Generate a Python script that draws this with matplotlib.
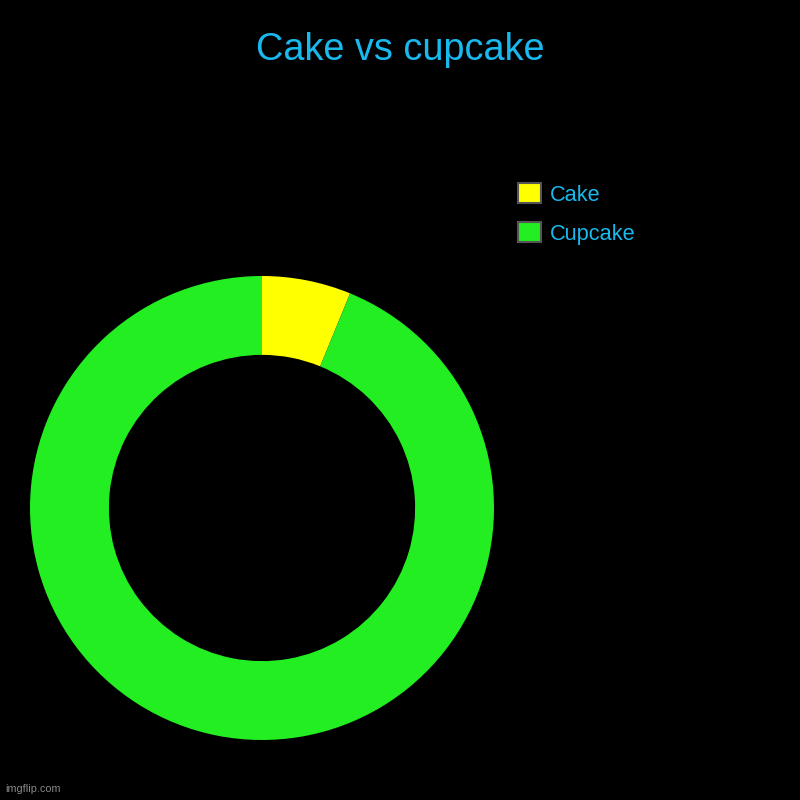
import matplotlib.pyplot as plt
from matplotlib.patches import Patch

plt.rcParams['font.family'] = ['Liberation Sans', 'DejaVu Sans']

labels = ['Cake', 'Cupcake']
values = [6.2, 93.8]
colors = ['#ffff00', '#22ee22']

fig = plt.figure(figsize=(8, 8), dpi=100, facecolor='black')
fig.text(0.5, 0.937, 'Cake vs cupcake', ha='center', va='center', color='#19b9ee', fontsize=27.3)

ax = fig.add_axes([0.0375, 0.075, 0.58, 0.58])
ax.set_facecolor('black')
ax.pie(values, colors=colors, startangle=90, counterclock=False,
       wedgeprops=dict(width=0.34, linewidth=0))
ax.set_xlim(-1, 1)
ax.set_ylim(-1, 1)
ax.set_aspect('equal')
ax.axis('off')

handles = [Patch(facecolor=c, edgecolor='#555555', linewidth=1.5) for c in colors]
leg = fig.legend(handles, labels, loc='upper left', bbox_to_anchor=(0.637, 0.782),
                 frameon=False, fontsize=15.7, handlelength=1.05, handleheight=1.05,
                 handletextpad=0.4, labelspacing=0.75, borderaxespad=0)
for t in leg.get_texts():
    t.set_color('#19b9ee')

fig.text(0.006, 0.01, 'imgflip.com', color='#888888', fontsize=7.8)

fig.savefig('out.png', dpi=100, facecolor='black')
